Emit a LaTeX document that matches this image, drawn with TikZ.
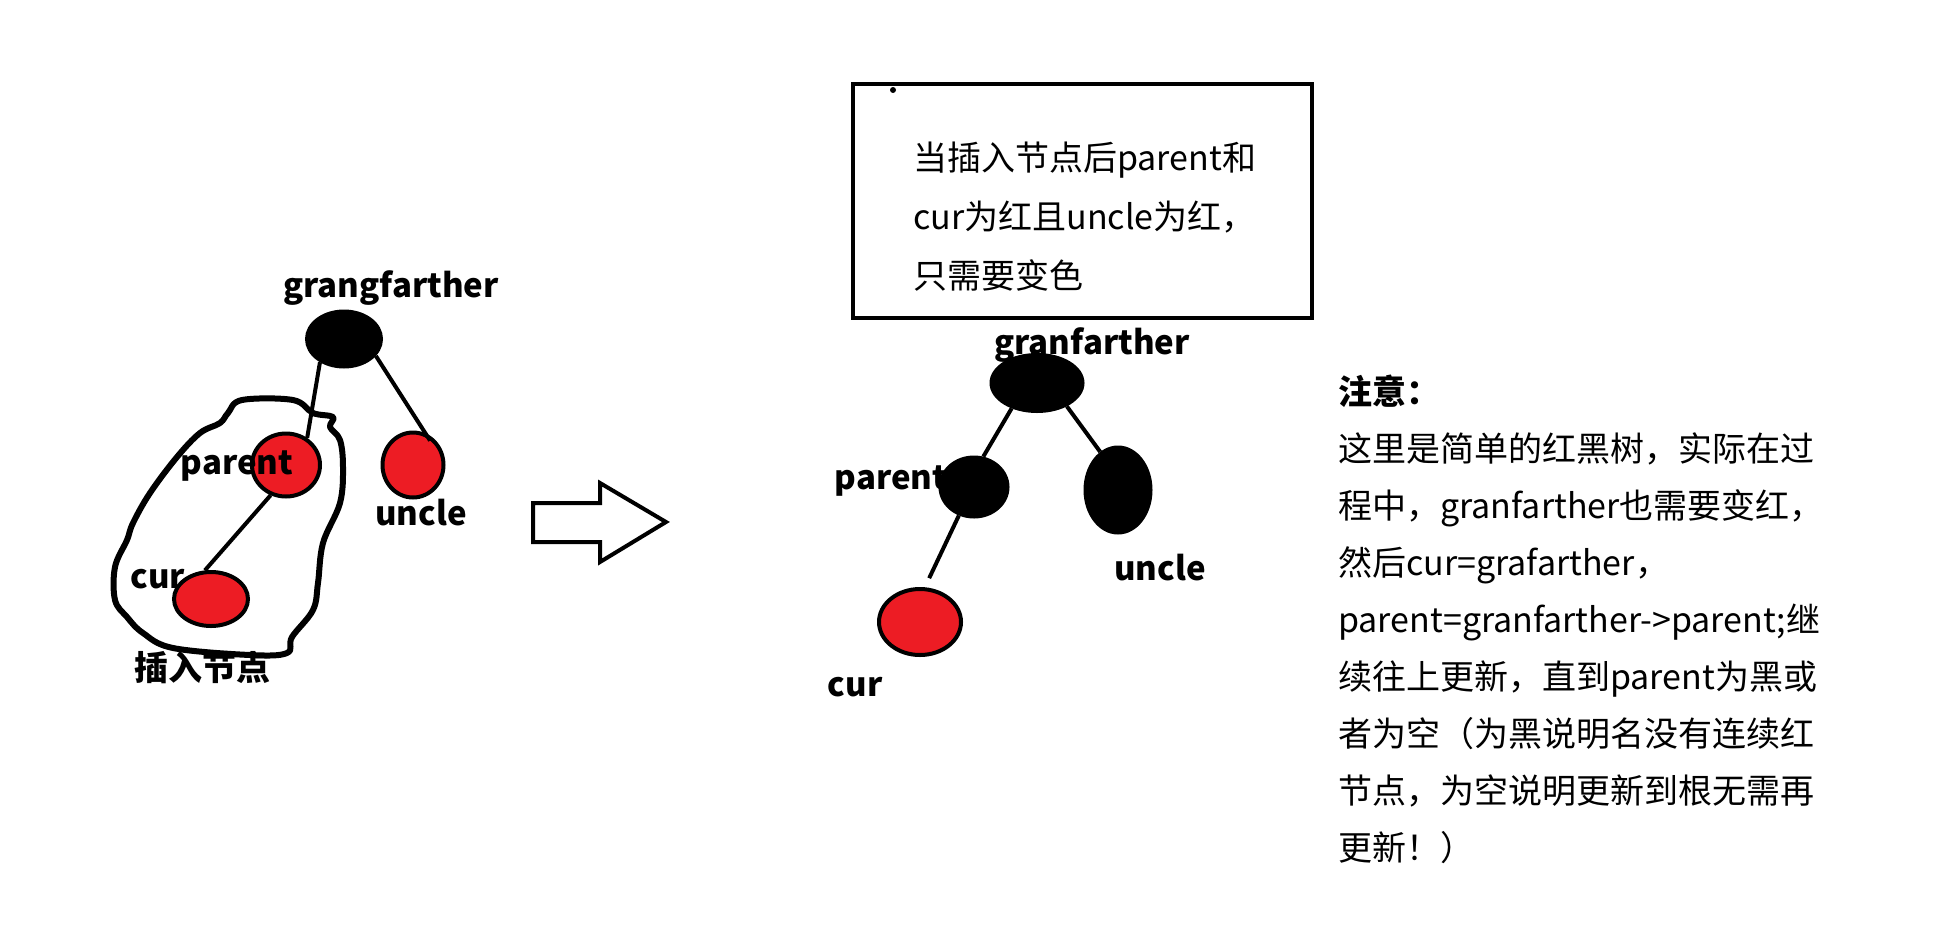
\documentclass[tikz,border=0pt]{standalone}
\usepackage{fontspec}
\setmainfont{Noto Sans CJK SC}
\usetikzlibrary{shapes.geometric}
\definecolor{rbRed}{HTML}{ED1C24}
\tikzset{
  % tree nodes, drawn as thick ellipses
  rb/node/.style={ellipse, draw=black, line width=4pt, inner sep=0pt},
  rb/red/.style={rb/node, fill=rbRed},
  rb/black/.style={rb/node, fill=black},
  rb/edge/.style={draw=black, line width=4pt},
  % bold names next to the nodes
  rb/label/.style={font=\fontsize{33}{40}\selectfont\bfseries, inner sep=0pt},
  % plain paragraphs
  rb/text/.style={font=\fontsize{34}{57}\selectfont, inner sep=0pt, align=left, anchor=north west},
}
\begin{document}
\begin{tikzpicture}[x=1pt,y=-1pt]
  \useasboundingbox (0,0) rectangle (1940,948);
  % left tree, before the colour change
  \node[rb/label] (lgp)  at (391,288) {grangfarther};
  \node[rb/label] (lunc) at (421,513) {uncle};
  \node[rb/label] (lcur) at (158,579) {cur};
  \node[rb/label, font=\fontsize{34}{40}\selectfont\bfseries] (lins) at (202,668) {插入节点};
  \node[rb/black, minimum width=74pt, minimum height=55pt] (gp)  at (344,339) {};
  \node[rb/red,   minimum width=68pt, minimum height=63pt] (par) at (286,465) {};
  \node[rb/red,   minimum width=61pt, minimum height=65pt] (unc) at (413,465) {};
  \node[rb/red,   minimum width=74pt, minimum height=54pt] (cur) at (211,599) {};
  \draw[rb/edge] (gp.224) -- (par.52);
  \draw[rb/edge, shorten >=-9pt] (gp.332) -- (unc.69);
  \draw[rb/edge] (par.243) -- (cur.102);
  \node[rb/label] (lpar) at (237,466) {parent};
  \draw[line width=6pt, line join=round] plot[smooth cycle, tension=0.6] coordinates {
    (242,400) (293,400) (313,413) (333,417) (330,427) (340,440) (343,467)
    (340,503) (323,543) (318,583) (313,610) (292,637) (287,653) (250,655)
    (173,648) (143,633) (127,617) (115,600) (115,567) (127,540) (133,523)
    (150,493) (177,457) (200,433) (220,423) (228,413)};
  % big hollow arrow
  \draw[line width=4pt, line join=miter] (533,503) -- (600,503) -- (600,483) -- (666,522)
    -- (600,562) -- (600,542) -- (533,542) -- cycle;
  % note box
  \node[draw, line width=4pt, minimum width=459pt, minimum height=234pt, inner sep=0pt] (note) at (1082.5,201) {};
  \fill (893,90) circle (3pt);
  \node[rb/text, font=\fontsize{34}{59}\selectfont] (msg) at (913,142)
    {当插入节点后parent和\\cur为红且uncle为红，\\只需要变色};
  % right tree, after the colour change
  \node[rb/label] (lgp2)  at (1092,345) {granfarther};
  \node[rb/label] (lpar2) at (891,481) {parent};
  \node[rb/label] (lunc2) at (1160,568) {uncle};
  \node[rb/label] (lcur2) at (855,687) {cur};
  \node[rb/black, minimum width=91pt, minimum height=56pt] (gp2)  at (1037,383) {};
  \node[rb/black, minimum width=67pt, minimum height=59pt] (par2) at (974,487) {};
  \node[rb/black, minimum width=65pt, minimum height=85pt] (unc2) at (1118,490) {};
  \node[rb/red,   minimum width=82pt, minimum height=66pt] (cur2) at (920,622) {};
  \draw[rb/edge] (gp2.225) -- (par2.73);
  \draw[rb/edge] (gp2.322) -- (unc2.115);
  \draw[rb/edge, shorten >=10pt] (par2.242) -- (cur2.82);
  % remark on the right
  \node[rb/text] (tip) at (1338,375)
    {\textbf{注意：}\\这里是简单的红黑树，实际在过\\程中，granfarther也需要变红，\\然后cur=grafarther，\\parent=granfarther->parent;继\\续往上更新，直到parent为黑或\\者为空（为黑说明名没有连续红\\节点，为空说明更新到根无需再\\更新！）};
\end{tikzpicture}
\end{document}
